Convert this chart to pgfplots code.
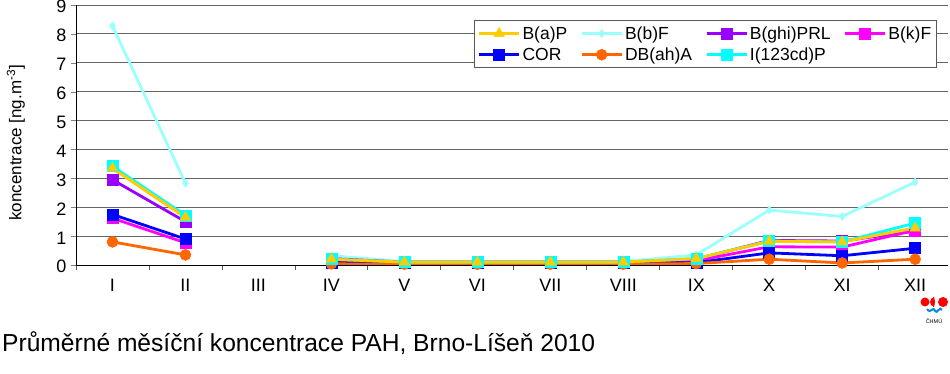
\documentclass[border=0pt]{standalone}
\usepackage{pgfplots}
\usepackage{pgfplotstable}
\pgfplotsset{compat=1.18}
\usepackage{fontspec}
\setmainfont{Liberation Sans}
\definecolor{cBaP}{RGB}{255,204,0}
\definecolor{cBbF}{RGB}{153,255,255}
\definecolor{cBghi}{RGB}{153,0,255}
\definecolor{cBkF}{RGB}{255,0,255}
\definecolor{cCOR}{RGB}{0,0,255}
\definecolor{cDB}{RGB}{255,102,0}
\definecolor{cI}{RGB}{0,255,255}
\definecolor{gridc}{RGB}{100,100,100}
\definecolor{logob}{RGB}{0,140,230}
\pgfplotstableread{
x BaP BbF Bghi BkF COR DB I
0 3.35 8.28 2.95 1.62 1.75 0.80 3.42
1 1.65 2.83 1.50 0.77 0.90 0.35 1.72
2 nan nan nan nan nan nan nan
3 0.20 0.32 0.22 0.15 0.08 0.04 0.20
4 0.10 0.12 0.10 0.07 0.08 0.03 0.10
5 0.10 0.12 0.10 0.07 0.08 0.03 0.10
6 0.10 0.12 0.10 0.07 0.08 0.03 0.10
7 0.10 0.12 0.10 0.07 0.08 0.03 0.10
8 0.22 0.35 0.20 0.15 0.08 0.05 0.22
9 0.82 1.90 0.85 0.63 0.42 0.20 0.83
10 0.80 1.68 0.83 0.62 0.32 0.07 0.80
11 1.28 2.87 1.18 1.20 0.58 0.20 1.45
}\data
\begin{document}
\begin{tikzpicture}
\useasboundingbox (-76pt,-109pt) rectangle (874pt,265pt);
\begin{axis}[
  at={(0,0)}, anchor=south west,
  scale only axis, width=872pt, height=260pt,
  xmin=-0.5, xmax=11.45, ymin=0, ymax=9,
  unbounded coords=jump,
  axis lines*=left, axis line style={black, line width=0.8pt},
  xtick={0,...,11},
  xticklabels={I,II,III,IV,V,VI,VII,VIII,IX,X,XI,XII},
  major x tick style={draw=none},
  minor xtick={-0.5,0.5,...,11.5},
  minor tick length=5pt,
  minor x tick style={gray!70!black, line width=0.8pt},
  xtick pos=bottom, ytick pos=left,
  tick align=outside,
  ytick={0,...,9},
  major tick length=5pt,
  ymajorgrids, grid style={gridc, line width=0.9pt},
  /pgf/number format/assume math mode=true,
  tick label style={font=\fontsize{18}{20}\selectfont},
  xticklabel style={yshift=-6pt},
  yticklabel style={xshift=-1pt, yshift=-1.8pt},
  ylabel={koncentrace [ng.m\textsuperscript{-3}]},
  ylabel style={at={(axis description cs:-0.069,0.47)}, anchor=center, font=\fontsize{17}{19}\selectfont},
  legend columns=4,
  legend cell align=left,
  legend style={at={(rel axis cs:0.987,0.942)}, anchor=north east,
    font=\fontsize{17.5}{21}\selectfont, draw=gray!70!black, line width=0.8pt,
    inner xsep=3pt, inner ysep=4pt, row sep=3pt,
    /tikz/every even column/.append style={column sep=11pt}},
  legend image code/.code={\draw[#1, line width=2.5pt] (0pt,0pt) -- (40pt,0pt); \draw[#1, mark repeat=2, mark phase=2] plot coordinates {(0pt,0pt) (20pt,0pt) (40pt,0pt)};},
  every axis plot/.append style={line width=2.8pt},
]
\addplot[cBaP, mark=triangle*, mark size=6pt, mark options={solid, line width=0.5pt}] table[x=x,y=BaP]{\data};
\addlegendentry{B(a)P}
\addplot[cBbF, mark=diamond*, mark size=4pt, mark options={solid, line width=0.5pt}] table[x=x,y=BbF]{\data};
\addlegendentry{B(b)F}
\addplot[cBghi, mark=square*, mark size=5.5pt, mark options={solid, line width=0.5pt}] table[x=x,y=Bghi]{\data};
\addlegendentry{B(ghi)PRL}
\addplot[cBkF, mark=square*, mark size=5.5pt, mark options={solid, line width=0.5pt}] table[x=x,y=BkF]{\data};
\addlegendentry{B(k)F}
\addplot[cCOR, mark=square*, mark size=5.5pt, mark options={solid, line width=0.5pt}] table[x=x,y=COR]{\data};
\addlegendentry{COR}
\addplot[cDB, mark=*, mark size=5.5pt, mark options={solid, line width=0.5pt}] table[x=x,y=DB]{\data};
\addlegendentry{DB(ah)A}
\addplot[cI, mark=square*, mark size=5.5pt, mark options={solid, line width=0.5pt}] table[x=x,y=I]{\data};
\addlegendentry{I(123cd)P}
\addplot[cBaP, mark=triangle*, mark size=6pt, mark options={solid, line width=0.5pt}, forget plot] table[x=x,y=BaP]{\data};
\end{axis}
\node[anchor=base west, inner sep=0pt, font=\fontsize{24.6}{28}\selectfont] at (-74pt,-87pt) {Průměrné měsíční koncentrace PAH, Brno-Líšeň 2010};
\fill[red] (849pt,-37pt) circle (4.5pt);
\fill[red] (859pt,-32pt) arc (90:270:5pt) -- (857pt,-42pt) arc (-90:90:2pt and 5pt) -- cycle;
\fill[red] (867pt,-37pt) circle (5pt);
\draw[logob, line width=2pt] (851pt,-44pt) .. controls (855pt,-50pt) and (857pt,-40pt) .. (859pt,-46pt) .. controls (861pt,-50pt) and (864pt,-40pt) .. (866pt,-45pt);
\node[font=\fontsize{5.5}{6}\selectfont, black] at (858pt,-56pt) {ČHMÚ};
\end{tikzpicture}
\end{document}
